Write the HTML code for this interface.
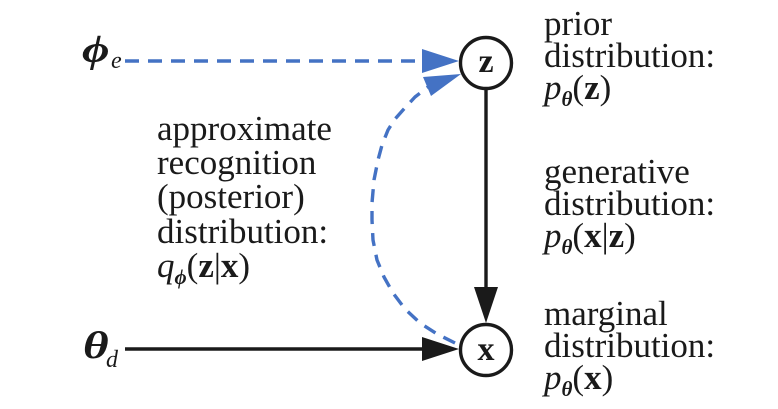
<!DOCTYPE html>
<html>
<head>
<meta charset="utf-8">
<style>
  html,body{margin:0;padding:0;background:#fff;}
  svg{display:block;}
  text{font-family:"Liberation Serif","DejaVu Serif",serif;fill:#1a1a1a;}
</style>
</head>
<body>
<svg width="778" height="409" viewBox="0 0 778 409" xmlns="http://www.w3.org/2000/svg">
  <rect width="778" height="409" fill="#fff"/>

  <!-- phi_e dashed arrow -->
  <line x1="125" y1="61" x2="424" y2="61" stroke="#4472C4" stroke-width="3.4" stroke-dasharray="14 9"/>
  <polygon points="459,61 422,49 422,73" fill="#4472C4"/>

  <!-- curved dashed recognition arrow -->
  <polyline points="455,343 437,334 420,323 405,309 393,293 384,277 377,260 373,240 372,220 372,203 374,180 378,160 382,145 388,130 395,119 403,110 415,97 428,87"
    fill="none" stroke="#4472C4" stroke-width="3.4" stroke-dasharray="13 9" stroke-linejoin="round"/>
  <polygon points="461,74 423,77 431,96" fill="#4472C4"/>

  <!-- vertical generative arrow -->
  <line x1="486" y1="88" x2="486" y2="290" stroke="#1a1a1a" stroke-width="3.4"/>
  <polygon points="486,323 474,287 498,287" fill="#1a1a1a"/>

  <!-- theta_d arrow -->
  <line x1="125" y1="349" x2="425" y2="349" stroke="#1a1a1a" stroke-width="3.4"/>
  <polygon points="459,349 422,337 422,361" fill="#1a1a1a"/>

  <!-- nodes -->
  <circle cx="486" cy="63" r="25.5" fill="#fff" stroke="#1a1a1a" stroke-width="3.4"/>
  <text x="486" y="72" font-size="34" font-weight="bold" text-anchor="middle">z</text>
  <circle cx="486" cy="350" r="25.5" fill="#fff" stroke="#1a1a1a" stroke-width="3.4"/>
  <text x="486" y="360" font-size="34" font-weight="bold" text-anchor="middle">x</text>

  <!-- left parameter labels -->
  <text transform="translate(82,62) scale(1.25,1)" font-size="38" font-weight="bold" font-style="italic">ϕ</text>
  <text x="111" y="68" font-size="24" font-style="italic">e</text>
  <text transform="translate(83,358) scale(1.3,1)" font-size="38" font-weight="bold" font-style="italic">θ</text>
  <text x="106" y="367" font-size="24" font-style="italic">d</text>

  <!-- left block -->
  <g font-size="35">
    <text x="157" y="140">approximate</text>
    <text x="157" y="174">recognition</text>
    <text x="157" y="208">(posterior)</text>
    <text x="157" y="243">distribution:</text>
    <text x="157" y="277"><tspan font-style="italic">q</tspan><tspan font-size="21" font-style="italic" font-weight="bold" dy="7">ϕ</tspan><tspan dy="-7">(</tspan><tspan font-weight="bold">z</tspan>|<tspan font-weight="bold">x</tspan>)</text>
  </g>

  <!-- right block -->
  <g font-size="35">
    <text x="544" y="35">prior</text>
    <text x="544" y="67">distribution:</text>
    <text x="544" y="99"><tspan font-style="italic">p</tspan><tspan font-size="21" font-style="italic" font-weight="bold" dy="7">θ</tspan><tspan dy="-7">(</tspan><tspan font-weight="bold">z</tspan>)</text>

    <text x="544" y="183">generative</text>
    <text x="544" y="215">distribution:</text>
    <text x="544" y="247"><tspan font-style="italic">p</tspan><tspan font-size="21" font-style="italic" font-weight="bold" dy="7">θ</tspan><tspan dy="-7">(</tspan><tspan font-weight="bold">x</tspan>|<tspan font-weight="bold">z</tspan>)</text>

    <text x="544" y="325">marginal</text>
    <text x="544" y="357">distribution:</text>
    <text x="544" y="389"><tspan font-style="italic">p</tspan><tspan font-size="21" font-style="italic" font-weight="bold" dy="7">θ</tspan><tspan dy="-7">(</tspan><tspan font-weight="bold">x</tspan>)</text>
  </g>
</svg>
</body>
</html>
